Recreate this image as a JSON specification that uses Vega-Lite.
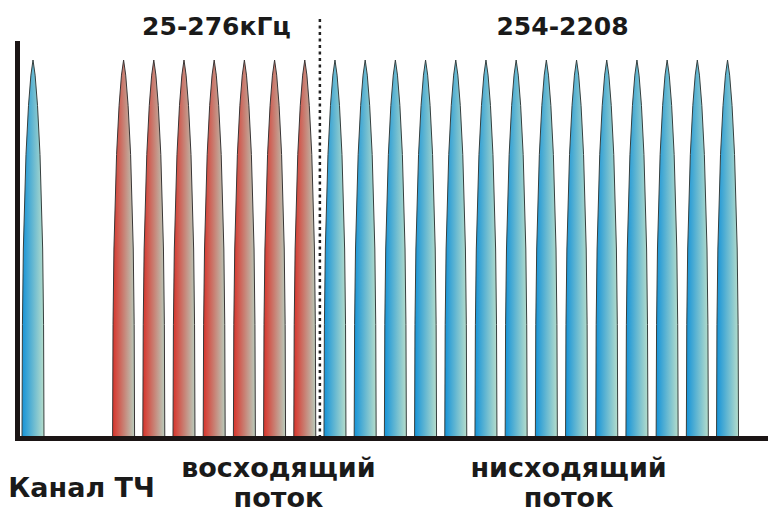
{
"$schema": "https://vega.github.io/schema/vega-lite/v6.json",
"width": 751, "height": 395,
"autosize": {"type": "none"},
"padding": {"left": 17, "top": 43, "right": 0, "bottom": 77},
"background": "white",
"config": {"view": {"stroke": null}},
"data": {"values": [
{"k":0,"f":-0.364,"a":0},{"k":0,"f":-0.35,"a":0.3},{"k":0,"f":-0.32,"a":0.5},{"k":0,"f":-0.232,"a":0.75},{"k":0,"f":-0.149,"a":0.88},{"k":0,"f":-0.07,"a":0.96},{"k":0,"f":0,"a":1},{"k":0,"f":0.07,"a":0.96},{"k":0,"f":0.149,"a":0.88},{"k":0,"f":0.232,"a":0.75},{"k":0,"f":0.32,"a":0.5},{"k":0,"f":0.35,"a":0.3},{"k":0,"f":0.364,"a":0},
{"k":3,"f":2.636,"a":0},{"k":3,"f":2.65,"a":0.3},{"k":3,"f":2.68,"a":0.5},{"k":3,"f":2.768,"a":0.75},{"k":3,"f":2.851,"a":0.88},{"k":3,"f":2.93,"a":0.96},{"k":3,"f":3,"a":1},{"k":3,"f":3.07,"a":0.96},{"k":3,"f":3.149,"a":0.88},{"k":3,"f":3.232,"a":0.75},{"k":3,"f":3.32,"a":0.5},{"k":3,"f":3.35,"a":0.3},{"k":3,"f":3.364,"a":0},
{"k":4,"f":3.636,"a":0},{"k":4,"f":3.65,"a":0.3},{"k":4,"f":3.68,"a":0.5},{"k":4,"f":3.768,"a":0.75},{"k":4,"f":3.851,"a":0.88},{"k":4,"f":3.93,"a":0.96},{"k":4,"f":4,"a":1},{"k":4,"f":4.07,"a":0.96},{"k":4,"f":4.149,"a":0.88},{"k":4,"f":4.232,"a":0.75},{"k":4,"f":4.32,"a":0.5},{"k":4,"f":4.35,"a":0.3},{"k":4,"f":4.364,"a":0},
{"k":5,"f":4.636,"a":0},{"k":5,"f":4.65,"a":0.3},{"k":5,"f":4.68,"a":0.5},{"k":5,"f":4.768,"a":0.75},{"k":5,"f":4.851,"a":0.88},{"k":5,"f":4.93,"a":0.96},{"k":5,"f":5,"a":1},{"k":5,"f":5.07,"a":0.96},{"k":5,"f":5.149,"a":0.88},{"k":5,"f":5.232,"a":0.75},{"k":5,"f":5.32,"a":0.5},{"k":5,"f":5.35,"a":0.3},{"k":5,"f":5.364,"a":0},
{"k":6,"f":5.636,"a":0},{"k":6,"f":5.65,"a":0.3},{"k":6,"f":5.68,"a":0.5},{"k":6,"f":5.768,"a":0.75},{"k":6,"f":5.851,"a":0.88},{"k":6,"f":5.93,"a":0.96},{"k":6,"f":6,"a":1},{"k":6,"f":6.07,"a":0.96},{"k":6,"f":6.149,"a":0.88},{"k":6,"f":6.232,"a":0.75},{"k":6,"f":6.32,"a":0.5},{"k":6,"f":6.35,"a":0.3},{"k":6,"f":6.364,"a":0},
{"k":7,"f":6.636,"a":0},{"k":7,"f":6.65,"a":0.3},{"k":7,"f":6.68,"a":0.5},{"k":7,"f":6.768,"a":0.75},{"k":7,"f":6.851,"a":0.88},{"k":7,"f":6.93,"a":0.96},{"k":7,"f":7,"a":1},{"k":7,"f":7.07,"a":0.96},{"k":7,"f":7.149,"a":0.88},{"k":7,"f":7.232,"a":0.75},{"k":7,"f":7.32,"a":0.5},{"k":7,"f":7.35,"a":0.3},{"k":7,"f":7.364,"a":0},
{"k":8,"f":7.636,"a":0},{"k":8,"f":7.65,"a":0.3},{"k":8,"f":7.68,"a":0.5},{"k":8,"f":7.768,"a":0.75},{"k":8,"f":7.851,"a":0.88},{"k":8,"f":7.93,"a":0.96},{"k":8,"f":8,"a":1},{"k":8,"f":8.07,"a":0.96},{"k":8,"f":8.149,"a":0.88},{"k":8,"f":8.232,"a":0.75},{"k":8,"f":8.32,"a":0.5},{"k":8,"f":8.35,"a":0.3},{"k":8,"f":8.364,"a":0},
{"k":9,"f":8.636,"a":0},{"k":9,"f":8.65,"a":0.3},{"k":9,"f":8.68,"a":0.5},{"k":9,"f":8.768,"a":0.75},{"k":9,"f":8.851,"a":0.88},{"k":9,"f":8.93,"a":0.96},{"k":9,"f":9,"a":1},{"k":9,"f":9.07,"a":0.96},{"k":9,"f":9.149,"a":0.88},{"k":9,"f":9.232,"a":0.75},{"k":9,"f":9.32,"a":0.5},{"k":9,"f":9.35,"a":0.3},{"k":9,"f":9.364,"a":0},
{"k":10,"f":9.636,"a":0},{"k":10,"f":9.65,"a":0.3},{"k":10,"f":9.68,"a":0.5},{"k":10,"f":9.768,"a":0.75},{"k":10,"f":9.851,"a":0.88},{"k":10,"f":9.93,"a":0.96},{"k":10,"f":10,"a":1},{"k":10,"f":10.07,"a":0.96},{"k":10,"f":10.149,"a":0.88},{"k":10,"f":10.232,"a":0.75},{"k":10,"f":10.32,"a":0.5},{"k":10,"f":10.35,"a":0.3},{"k":10,"f":10.364,"a":0},
{"k":11,"f":10.636,"a":0},{"k":11,"f":10.65,"a":0.3},{"k":11,"f":10.68,"a":0.5},{"k":11,"f":10.768,"a":0.75},{"k":11,"f":10.851,"a":0.88},{"k":11,"f":10.93,"a":0.96},{"k":11,"f":11,"a":1},{"k":11,"f":11.07,"a":0.96},{"k":11,"f":11.149,"a":0.88},{"k":11,"f":11.232,"a":0.75},{"k":11,"f":11.32,"a":0.5},{"k":11,"f":11.35,"a":0.3},{"k":11,"f":11.364,"a":0},
{"k":12,"f":11.636,"a":0},{"k":12,"f":11.65,"a":0.3},{"k":12,"f":11.68,"a":0.5},{"k":12,"f":11.768,"a":0.75},{"k":12,"f":11.851,"a":0.88},{"k":12,"f":11.93,"a":0.96},{"k":12,"f":12,"a":1},{"k":12,"f":12.07,"a":0.96},{"k":12,"f":12.149,"a":0.88},{"k":12,"f":12.232,"a":0.75},{"k":12,"f":12.32,"a":0.5},{"k":12,"f":12.35,"a":0.3},{"k":12,"f":12.364,"a":0},
{"k":13,"f":12.636,"a":0},{"k":13,"f":12.65,"a":0.3},{"k":13,"f":12.68,"a":0.5},{"k":13,"f":12.768,"a":0.75},{"k":13,"f":12.851,"a":0.88},{"k":13,"f":12.93,"a":0.96},{"k":13,"f":13,"a":1},{"k":13,"f":13.07,"a":0.96},{"k":13,"f":13.149,"a":0.88},{"k":13,"f":13.232,"a":0.75},{"k":13,"f":13.32,"a":0.5},{"k":13,"f":13.35,"a":0.3},{"k":13,"f":13.364,"a":0},
{"k":14,"f":13.636,"a":0},{"k":14,"f":13.65,"a":0.3},{"k":14,"f":13.68,"a":0.5},{"k":14,"f":13.768,"a":0.75},{"k":14,"f":13.851,"a":0.88},{"k":14,"f":13.93,"a":0.96},{"k":14,"f":14,"a":1},{"k":14,"f":14.07,"a":0.96},{"k":14,"f":14.149,"a":0.88},{"k":14,"f":14.232,"a":0.75},{"k":14,"f":14.32,"a":0.5},{"k":14,"f":14.35,"a":0.3},{"k":14,"f":14.364,"a":0},
{"k":15,"f":14.636,"a":0},{"k":15,"f":14.65,"a":0.3},{"k":15,"f":14.68,"a":0.5},{"k":15,"f":14.768,"a":0.75},{"k":15,"f":14.851,"a":0.88},{"k":15,"f":14.93,"a":0.96},{"k":15,"f":15,"a":1},{"k":15,"f":15.07,"a":0.96},{"k":15,"f":15.149,"a":0.88},{"k":15,"f":15.232,"a":0.75},{"k":15,"f":15.32,"a":0.5},{"k":15,"f":15.35,"a":0.3},{"k":15,"f":15.364,"a":0},
{"k":16,"f":15.636,"a":0},{"k":16,"f":15.65,"a":0.3},{"k":16,"f":15.68,"a":0.5},{"k":16,"f":15.768,"a":0.75},{"k":16,"f":15.851,"a":0.88},{"k":16,"f":15.93,"a":0.96},{"k":16,"f":16,"a":1},{"k":16,"f":16.07,"a":0.96},{"k":16,"f":16.149,"a":0.88},{"k":16,"f":16.232,"a":0.75},{"k":16,"f":16.32,"a":0.5},{"k":16,"f":16.35,"a":0.3},{"k":16,"f":16.364,"a":0},
{"k":17,"f":16.636,"a":0},{"k":17,"f":16.65,"a":0.3},{"k":17,"f":16.68,"a":0.5},{"k":17,"f":16.768,"a":0.75},{"k":17,"f":16.851,"a":0.88},{"k":17,"f":16.93,"a":0.96},{"k":17,"f":17,"a":1},{"k":17,"f":17.07,"a":0.96},{"k":17,"f":17.149,"a":0.88},{"k":17,"f":17.232,"a":0.75},{"k":17,"f":17.32,"a":0.5},{"k":17,"f":17.35,"a":0.3},{"k":17,"f":17.364,"a":0},
{"k":18,"f":17.636,"a":0},{"k":18,"f":17.65,"a":0.3},{"k":18,"f":17.68,"a":0.5},{"k":18,"f":17.768,"a":0.75},{"k":18,"f":17.851,"a":0.88},{"k":18,"f":17.93,"a":0.96},{"k":18,"f":18,"a":1},{"k":18,"f":18.07,"a":0.96},{"k":18,"f":18.149,"a":0.88},{"k":18,"f":18.232,"a":0.75},{"k":18,"f":18.32,"a":0.5},{"k":18,"f":18.35,"a":0.3},{"k":18,"f":18.364,"a":0},
{"k":19,"f":18.636,"a":0},{"k":19,"f":18.65,"a":0.3},{"k":19,"f":18.68,"a":0.5},{"k":19,"f":18.768,"a":0.75},{"k":19,"f":18.851,"a":0.88},{"k":19,"f":18.93,"a":0.96},{"k":19,"f":19,"a":1},{"k":19,"f":19.07,"a":0.96},{"k":19,"f":19.149,"a":0.88},{"k":19,"f":19.232,"a":0.75},{"k":19,"f":19.32,"a":0.5},{"k":19,"f":19.35,"a":0.3},{"k":19,"f":19.364,"a":0},
{"k":20,"f":19.636,"a":0},{"k":20,"f":19.65,"a":0.3},{"k":20,"f":19.68,"a":0.5},{"k":20,"f":19.768,"a":0.75},{"k":20,"f":19.851,"a":0.88},{"k":20,"f":19.93,"a":0.96},{"k":20,"f":20,"a":1},{"k":20,"f":20.07,"a":0.96},{"k":20,"f":20.149,"a":0.88},{"k":20,"f":20.232,"a":0.75},{"k":20,"f":20.32,"a":0.5},{"k":20,"f":20.35,"a":0.3},{"k":20,"f":20.364,"a":0},
{"k":21,"f":20.636,"a":0},{"k":21,"f":20.65,"a":0.3},{"k":21,"f":20.68,"a":0.5},{"k":21,"f":20.768,"a":0.75},{"k":21,"f":20.851,"a":0.88},{"k":21,"f":20.93,"a":0.96},{"k":21,"f":21,"a":1},{"k":21,"f":21.07,"a":0.96},{"k":21,"f":21.149,"a":0.88},{"k":21,"f":21.232,"a":0.75},{"k":21,"f":21.32,"a":0.5},{"k":21,"f":21.35,"a":0.3},{"k":21,"f":21.364,"a":0},
{"k":22,"f":21.636,"a":0},{"k":22,"f":21.65,"a":0.3},{"k":22,"f":21.68,"a":0.5},{"k":22,"f":21.768,"a":0.75},{"k":22,"f":21.851,"a":0.88},{"k":22,"f":21.93,"a":0.96},{"k":22,"f":22,"a":1},{"k":22,"f":22.07,"a":0.96},{"k":22,"f":22.149,"a":0.88},{"k":22,"f":22.232,"a":0.75},{"k":22,"f":22.32,"a":0.5},{"k":22,"f":22.35,"a":0.3},{"k":22,"f":22.364,"a":0},
{"k":23,"f":22.636,"a":0},{"k":23,"f":22.65,"a":0.3},{"k":23,"f":22.68,"a":0.5},{"k":23,"f":22.768,"a":0.75},{"k":23,"f":22.851,"a":0.88},{"k":23,"f":22.93,"a":0.96},{"k":23,"f":23,"a":1},{"k":23,"f":23.07,"a":0.96},{"k":23,"f":23.149,"a":0.88},{"k":23,"f":23.232,"a":0.75},{"k":23,"f":23.32,"a":0.5},{"k":23,"f":23.35,"a":0.3},{"k":23,"f":23.364,"a":0}
]},
"resolve": {"axis": {"x": "independent", "y": "independent"}},
"layer": [
{
"transform": [{"filter": "datum.k == 0 || datum.k >= 10"}],
"mark": {"type": "area", "stroke": "#36403f", "strokeWidth": 1, "clip": false,
 "fill": {"gradient": "linear", "x1": 0, "y1": 0, "x2": 1, "y2": 0,
  "stops": [{"offset": 0, "color": "#1593d8"}, {"offset": 1, "color": "#b6ddcb"}]}},
"encoding": {
 "x": {"field": "f", "type": "quantitative",
  "scale": {"domain": [-0.53, 24.34], "nice": false, "zero": false},
  "axis": {"orient": "bottom", "values": [1.59, 8.11, 17.72],
   "labelExpr": "datum.value < 3 ? 'Канал ТЧ' : datum.value < 12 ? ['восходящий', 'поток'] : ['нисходящий', 'поток']",
   "domain": true, "domainWidth": 5, "domainColor": "#1b1515", "domainCap": "square",
   "ticks": false, "tickSize": 0, "grid": false, "title": null,
   "labelFont": "DejaVu Sans", "labelFontWeight": "bold", "labelFontSize": 27, "labelColor": "#1a1a1a",
   "labelBaseline": "alphabetic", "labelAlign": "center", "labelLineHeight": 30, "labelLimit": 500,
   "labelPadding": {"condition": {"test": "datum.value < 3", "value": 58}, "value": 38},
   "labelOverlap": false, "labelFlush": false, "labelBound": false, "zindex": 1}},
 "y": {"field": "a", "type": "quantitative", "stack": null,
  "scale": {"domain": [0, 1.045], "nice": false, "zero": true},
  "axis": {"orient": "left", "domain": true, "domainWidth": 5, "domainColor": "#1b1515", "domainCap": "square",
   "ticks": false, "labels": false, "grid": false, "title": null, "zindex": 1}},
 "detail": {"field": "k", "type": "nominal"}
}
},
{
"transform": [{"filter": "datum.k >= 3 && datum.k <= 9"}],
"mark": {"type": "area", "stroke": "#3a3636", "strokeWidth": 1, "clip": false,
 "fill": {"gradient": "linear", "x1": 0, "y1": 0, "x2": 1, "y2": 0,
  "stops": [{"offset": 0, "color": "#d8332a"}, {"offset": 1, "color": "#b9ccbc"}]}},
"encoding": {
 "x": {"field": "f", "type": "quantitative",
  "axis": {"orient": "top", "values": [6.06, 17.52],
   "labelExpr": "datum.value < 12 ? '25-276кГц' : '254-2208'",
   "domain": false, "ticks": false, "tickSize": 0, "grid": false, "title": null,
   "labelFont": "DejaVu Sans", "labelFontWeight": "bold", "labelFontSize": 25, "labelColor": "#1a1a1a",
   "labelBaseline": "alphabetic", "labelAlign": "center", "labelPadding": 9, "labelLimit": 500,
   "labelOverlap": false, "labelFlush": false, "labelBound": false}},
 "y": {"field": "a", "type": "quantitative", "stack": null, "axis": null},
 "detail": {"field": "k", "type": "nominal"}
}
},
{
"data": {"values": [{"divider": "upstream/downstream"}]},
"mark": {"type": "rule", "color": "#222222", "strokeWidth": 2.5, "strokeDash": [3, 3.5], "clip": false},
"encoding": {
 "x": {"datum": 9.5, "type": "quantitative", "axis": null},
 "y": {"datum": 0, "type": "quantitative", "axis": null},
 "y2": {"datum": 1.117}
}
}
]
}
